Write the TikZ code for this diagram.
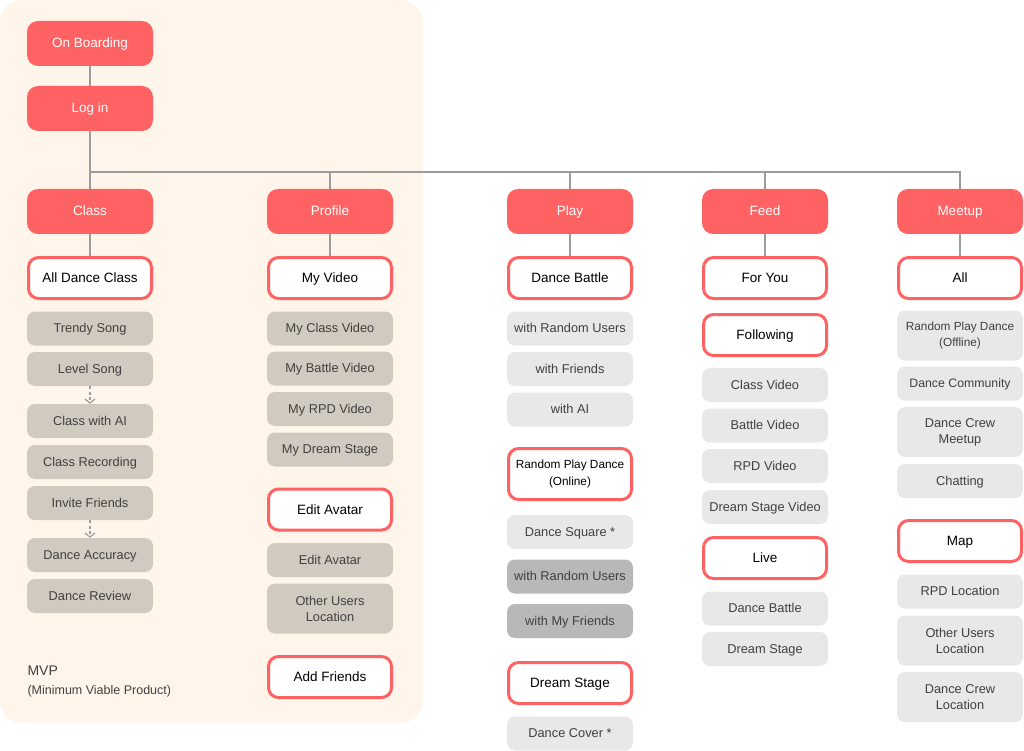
\documentclass[tikz,border=0pt]{standalone}
\usepackage{fontspec}
\setmainfont{Liberation Sans}
\usetikzlibrary{arrows.meta}

\definecolor{mvpbg}{HTML}{FFF5EB}
\definecolor{coral}{HTML}{FF6262}
\definecolor{sand}{HTML}{D1CAC0}
\definecolor{mist}{HTML}{E8E8E8}
\definecolor{slate}{HTML}{B8B8B8}
\definecolor{wire}{HTML}{9C9C9C}
\definecolor{ink}{HTML}{404040}

\begin{document}
\begin{tikzpicture}[x=1pt,y=1pt,
  menu/.style={fill=coral,text=white,rounded corners=11pt,inner sep=2pt,text height=9.5pt,text depth=0.5pt,minimum width=126pt,minimum height=45pt,font=\fontsize{13.5}{15}\selectfont},
  tab/.style={draw=coral,line width=3pt,fill=white,text=black,rounded corners=10pt,inner sep=2pt,text height=9.5pt,text depth=0.5pt,minimum width=123pt,minimum height=41pt,align=center,font=\fontsize{13.5}{16}\selectfont},
  item/.style={fill=sand,text=ink,rounded corners=8pt,inner sep=2pt,text height=9pt,text depth=0.5pt,minimum width=126pt,minimum height=34pt,align=center,font=\fontsize{12.8}{16}\selectfont},
  extra/.style={item,fill=mist},
  dark/.style={item,fill=slate},
  twoline/.style={text height=,text depth=,minimum height=50pt},
  link/.style={draw=wire,line width=1.6pt},
  next/.style={draw=wire,line width=1.2pt,dash pattern=on 3pt off 2.5pt,-{Straight Barb[length=4pt,width=10pt]}}]
\useasboundingbox (0,0) rectangle (1024,-751);
\fill[mvpbg,rounded corners=22pt] (0,0) rectangle (423,-723);
\node[menu] (onboard) at (90,-43.5) {On Boarding};
\node[menu] (login) at (90,-108.5) {Log in};
\coordinate (bus) at (90,-172);
\node[menu] (class) at (90,-211.5) {Class};
\node[menu] (profile) at (330,-211.5) {Profile};
\node[menu] (play) at (570,-211.5) {Play};
\node[menu] (feed) at (765,-211.5) {Feed};
\node[menu] (meetup) at (960,-211.5) {Meetup};
\node[tab] (allclass) at (90,-278) {All Dance Class};
\node[item] (trendy) at (90,-328.5) {Trendy Song};
\node[item] (level) at (90,-369) {Level Song};
\node[item] (classai) at (90,-421) {Class with AI};
\node[item] (record) at (90,-462) {Class Recording};
\node[item] (invite) at (90,-503) {Invite Friends};
\node[item] (accuracy) at (90,-555) {Dance Accuracy};
\node[item] (review) at (90,-596) {Dance Review};
\node[anchor=west,text=ink,font=\fontsize{14}{16}\selectfont] (mvp) at (24,-671) {MVP};
\node[anchor=west,text=ink,font=\fontsize{12.5}{14}\selectfont] (mvpfull) at (24,-691) {(Minimum Viable Product)};
\node[tab] (myvideo) at (330,-278) {My Video};
\node[item] (myclass) at (330,-328.5) {My Class Video};
\node[item] (mybattle) at (330,-368.5) {My Battle Video};
\node[item] (myrpd) at (330,-409) {My RPD Video};
\node[item] (mydream) at (330,-449.5) {My Dream Stage};
\node[tab] (avatar) at (330,-509.5) {Edit Avatar};
\node[item] (editavatar) at (330,-560) {Edit Avatar};
\node[item,twoline] (others) at (330,-608.5) {Other Users\\Location};
\node[tab] (addfriends) at (330,-677) {Add Friends};
\node[tab] (battle) at (570,-278) {Dance Battle};
\node[extra] (random) at (570,-328.5) {with Random Users};
\node[extra] (friends) at (570,-369) {with Friends};
\node[extra] (withai) at (570,-409.5) {with AI};
\node[tab,text height=,text depth=,minimum height=51pt,font=\fontsize{11.8}{17}\selectfont] (rpdonline) at (570,-474) {Random Play Dance\\(Online)};
\node[extra] (square) at (570,-532) {Dance Square *};
\node[dark] (squarerandom) at (570,-576.5) {with Random Users};
\node[dark] (squarefriends) at (570,-621) {with My Friends};
\node[tab] (dreamstage) at (570,-683) {Dream Stage};
\node[extra] (cover) at (570,-733.5) {Dance Cover *};
\node[tab] (foryou) at (765,-278) {For You};
\node[tab] (following) at (765,-335) {Following};
\node[extra] (classvideo) at (765,-385) {Class Video};
\node[extra] (battlevideo) at (765,-425.5) {Battle Video};
\node[extra] (rpdvideo) at (765,-466) {RPD Video};
\node[extra] (dreamvideo) at (765,-507) {Dream Stage Video};
\node[tab] (live) at (765,-558) {Live};
\node[extra] (livebattle) at (765,-608.5) {Dance Battle};
\node[extra] (livedream) at (765,-649) {Dream Stage};
\node[tab] (all) at (960,-278) {All};
\node[extra,twoline,font=\fontsize{11.8}{16}\selectfont] (rpdoffline) at (960,-335.5) {Random Play Dance\\(Offline)};
\node[extra,font=\fontsize{12.3}{16}\selectfont] (community) at (960,-383.5) {Dance Community};
\node[extra,twoline] (crewmeetup) at (960,-432) {Dance Crew\\Meetup};
\node[extra] (chatting) at (960,-481) {Chatting};
\node[tab] (map) at (960,-541) {Map};
\node[extra] (rpdlocation) at (960,-591.5) {RPD Location};
\node[extra,twoline] (otherslocation) at (960,-640.5) {Other Users\\Location};
\node[extra,twoline] (crewlocation) at (960,-697) {Dance Crew\\Location};
\draw[link] (onboard) -- (login);
\draw[link] (login) -- (class);
\draw[link] (bus) -- (bus -| meetup) -- (meetup);
\draw[link] (bus -| profile) -- (profile);
\draw[link] (bus -| play) -- (play);
\draw[link] (bus -| feed) -- (feed);
\draw[link] (class) -- (allclass);
\draw[link] (profile) -- (myvideo);
\draw[link] (play) -- (battle);
\draw[link] (feed) -- (foryou);
\draw[link] (meetup) -- (all);
\draw[next] (level) -- (classai);
\draw[next] (invite) -- (accuracy);
\end{tikzpicture}
\end{document}
